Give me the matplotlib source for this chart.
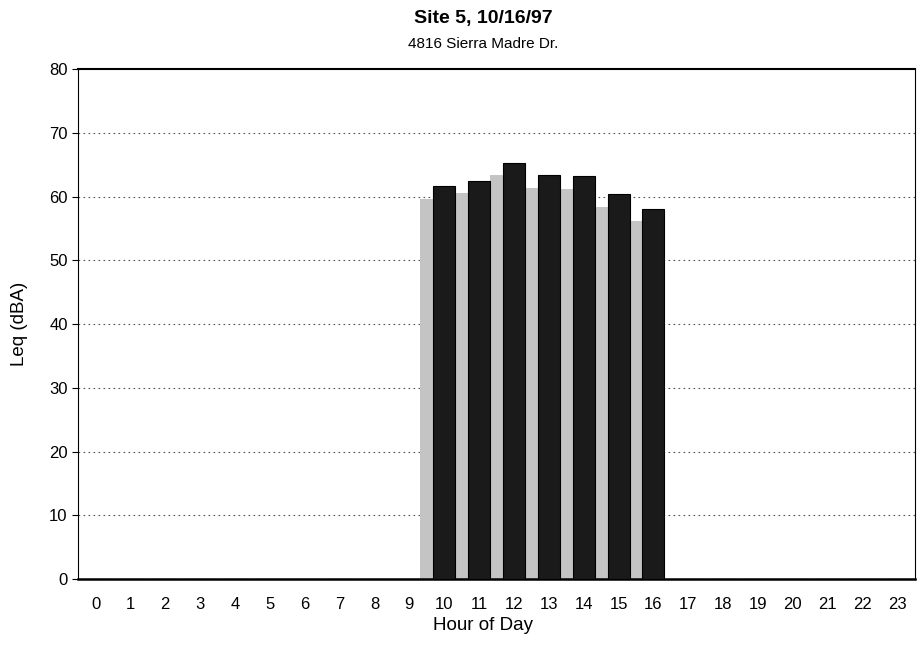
import matplotlib.pyplot as plt
import numpy as np

hours = list(range(24))
leq = [0, 0, 0, 0, 0, 0, 0, 0, 0, 0,
       61.6, 62.5, 65.3, 63.4, 63.2, 60.4, 58.1,
       0, 0, 0, 0, 0, 0, 0]
shadow_drop = 2.0

plt.rcParams['font.family'] = ['Liberation Sans', 'DejaVu Sans']

fig = plt.figure(figsize=(9.19, 6.45), dpi=100)
ax = fig.add_axes([0.085, 0.1023, 0.9106, 0.7907])

x = np.array(hours)
y = np.array(leq)
shade = np.where(y > 0, y - shadow_drop, 0)

# grey "shadow" bars behind, shifted left
ax.bar(x - 0.37, shade, width=0.63, color="#c4c4c4", edgecolor="none", zorder=2)
# dark front bars
ax.bar(x, y, width=0.63, color="#1a1a1a", edgecolor="black", linewidth=0.8, zorder=3)

ax.set_xlim(-0.5, 23.5)
ax.set_ylim(0, 80)
ax.set_xticks(hours)
ax.set_yticks(range(0, 81, 10))
ax.tick_params(axis="x", length=0, labelsize=12, pad=13)
ax.tick_params(axis="y", length=4, labelsize=12, direction="out")

for v in range(10, 80, 10):
    ax.axhline(v, color="#555555", linestyle=(0, (1.5, 3)), linewidth=0.8, zorder=1)

for s in ax.spines.values():
    s.set_linewidth(0.8)
ax.spines["bottom"].set_linewidth(1.8)
ax.spines["top"].set_linewidth(1.5)

ax.set_xlabel("Hour of Day", fontsize=13.5)
ax.set_ylabel("Leq (dBA)", fontsize=13.5)
ax.xaxis.set_label_coords(0.484, -0.075)
ax.yaxis.set_label_coords(-0.06, 0.5)

fig.text(0.526, 0.972, "Site 5, 10/16/97", ha="center", va="center", fontsize=14, fontweight="bold")
fig.text(0.526, 0.932, "4816 Sierra Madre Dr.", ha="center", va="center", fontsize=11)

plt.savefig("out.png", dpi=100)
